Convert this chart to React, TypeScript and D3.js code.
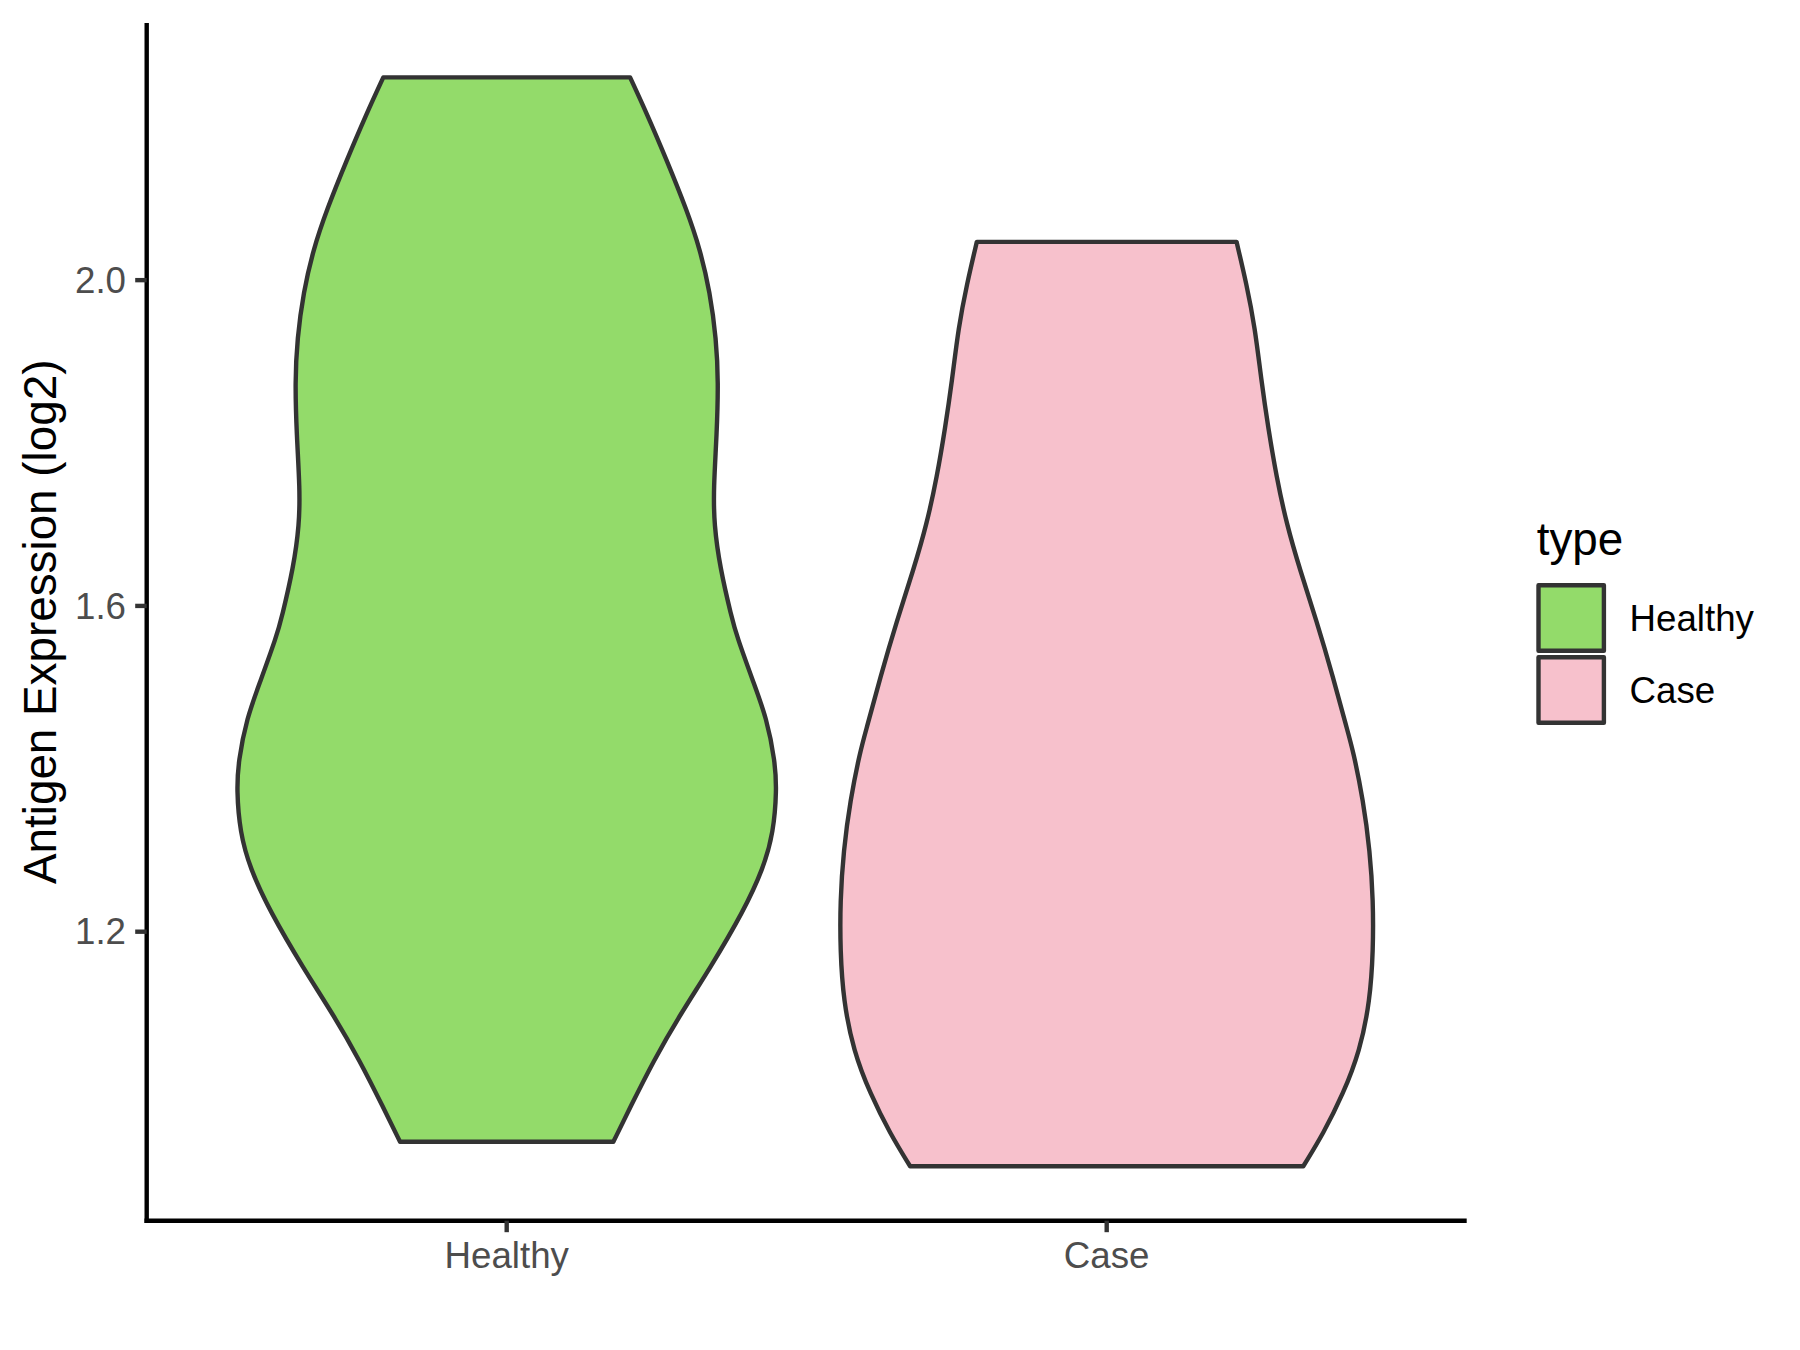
import React from "react";
import * as d3 from "d3";

const categories = ["Healthy", "Case"];
const fillColors = ["#93DB6A", "#F7C1CC"];

const healthyValues = [2.249, 2.2045, 2.147, 2.086, 2.038, 1.985, 1.928, 1.875, 1.81, 1.744, 1.7, 1.647, 1.586, 1.563, 1.506, 1.462, 1.409, 1.374, 1.322, 1.278, 1.225, 1.155, 1.098, 1.041, 0.984, 0.942];
const healthyWidths = [0.457, 0.519, 0.593, 0.667, 0.716, 0.753, 0.776, 0.784, 0.778, 0.766, 0.768, 0.79, 0.833, 0.852, 0.914, 0.963, 0.994, 1.0, 0.988, 0.951, 0.877, 0.753, 0.642, 0.543, 0.457, 0.395];

const caseValues = [2.047, 1.995, 1.942, 1.876, 1.819, 1.758, 1.701, 1.644, 1.582, 1.512, 1.451, 1.422, 1.361, 1.299, 1.238, 1.177, 1.115, 1.054, 1.001, 0.952, 0.912];
const caseWidths = [0.481, 0.518, 0.549, 0.573, 0.598, 0.629, 0.666, 0.716, 0.777, 0.839, 0.888, 0.913, 0.95, 0.975, 0.987, 0.987, 0.975, 0.938, 0.876, 0.802, 0.728];

const yTicks = [1.2, 1.6, 2.0];
const yTickLabels = ["1.2", "1.6", "2.0"];

const FONT = "'Liberation Sans', Arial, sans-serif";

export default function App() {
  const W = 1800, H = 1350;
  const panelLeft = 146.7, panelRight = 1466.7, panelTop = 22.9, panelBottom = 1220.7;

  const allVals = [...healthyValues, ...caseValues];
  const vmin = d3.min(allVals) as number;
  const vmax = d3.max(allVals) as number;
  const pad = (vmax - vmin) * 0.05;
  const y = d3.scaleLinear().domain([vmin - pad, vmax + pad]).range([panelBottom, panelTop]);
  const x = d3.scalePoint<string>().domain(categories).range([panelLeft, panelRight]).padding(0.6);
  const step = x.step();
  const maxHalf = step * 0.45;

  const series = [
    { cat: categories[0], vals: healthyValues, ws: healthyWidths, fill: fillColors[0] },
    { cat: categories[1], vals: caseValues, ws: caseWidths, fill: fillColors[1] },
  ];

  const areaFor = (cat: string) =>
    d3
      .area<[number, number]>()
      .y((d) => y(d[0]))
      .x0((d) => (x(cat) as number) - d[1] * maxHalf)
      .x1((d) => (x(cat) as number) + d[1] * maxHalf)
      .curve(d3.curveBasis);

  const lw = 4.4;
  const tickLen = 11.5;

  return (
    <svg width={W} height={H} style={{ position: "absolute", left: 0, top: 0, background: "#fff" }} fontFamily={FONT}>
      <rect x={0} y={0} width={W} height={H} fill="#fff" />
      {series.map((s) => {
        const pts: [number, number][] = s.vals.map((v, i) => [v, s.ws[i]]);
        return (
          <path key={s.cat} d={areaFor(s.cat)(pts) || ""} fill={s.fill} stroke="#333333" strokeWidth={lw} strokeLinejoin="round" />
        );
      })}
      <line x1={panelLeft} x2={panelLeft} y1={panelTop} y2={panelBottom + lw / 2} stroke="#000" strokeWidth={lw} />
      <line x1={panelLeft - lw / 2} x2={panelRight} y1={panelBottom} y2={panelBottom} stroke="#000" strokeWidth={lw} />
      {yTicks.map((t, i) => (
        <g key={t}>
          <line x1={panelLeft - tickLen} x2={panelLeft} y1={y(t)} y2={y(t)} stroke="#333333" strokeWidth={lw} />
          <text x={panelLeft - tickLen - 9.2} y={y(t)} dy={12.8} textAnchor="end" fontSize={36.7} fill="#4D4D4D">
            {yTickLabels[i]}
          </text>
        </g>
      ))}
      {categories.map((c) => (
        <g key={c}>
          <line x1={x(c)} x2={x(c)} y1={panelBottom} y2={panelBottom + tickLen} stroke="#333333" strokeWidth={lw} />
          <text x={x(c)} y={1268.3} textAnchor="middle" fontSize={36.7} fill="#4D4D4D">
            {c}
          </text>
        </g>
      ))}
      <text transform={`translate(55.5, ${(panelTop + panelBottom) / 2}) rotate(-90)`} textAnchor="middle" fontSize={45.8} fill="#000">
        Antigen Expression (log2)
      </text>
      <text x={1536.7} y={555} fontSize={45.8} fill="#000">type</text>
      {categories.map((c, i) => {
        const cy = 618 + i * 72;
        return (
          <g key={c}>
            <rect x={1538.5} y={cy - 32.7} width={65.4} height={65.4} fill={fillColors[i]} stroke="#333333" strokeWidth={lw} strokeLinejoin="round" />
            <text x={1629.5} y={cy + 13.2} fontSize={36.7} fill="#000">
              {c}
            </text>
          </g>
        );
      })}
    </svg>
  );
}
